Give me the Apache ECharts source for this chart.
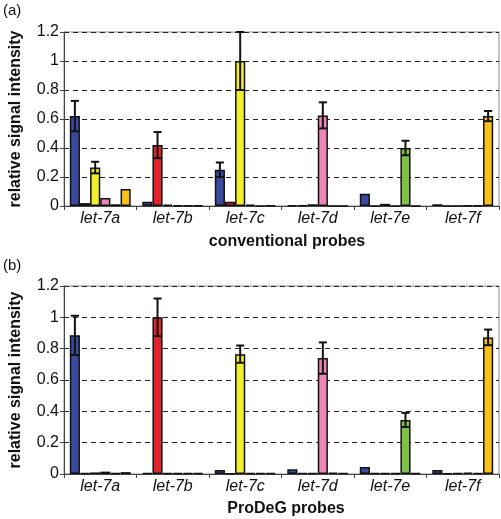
<!DOCTYPE html>
<html><head><meta charset="utf-8">
<script src="https://cdn.jsdelivr.net/npm/echarts@6/dist/echarts.min.js"></script>
<style>html,body{margin:0;padding:0;background:#fff}#c{width:501px;height:519px}</style>
</head><body><div id="c"></div>
<script>
const categories = ['let-7a','let-7b','let-7c','let-7d','let-7e','let-7f'];
const seriesNames = ['let-7a','let-7b','let-7c','let-7d','let-7e','let-7f'];
const colors = ['#3a4a9e','#e3242b','#f2ef2f','#ee86b8','#7dc243','#f7c21b'];
const yTicks = [0,0.2,0.4,0.6,0.8,1,1.2];

// (a) conventional probes: per series (target), values over categories (probes)
const convBlue   = [0.62, 0.03, 0.25, 0.005, 0.085, 0.012];
const convRed    = [0.02, 0.42, 0.03, 0.005, 0, 0];
const convYellow = [0.265, 0.01, 1.0, 0.012, 0.015, 0];
const convPink   = [0.055, 0.005, 0.01, 0.625, 0, 0.004];
const convGreen  = [0.012, 0.005, 0, 0, 0.40, 0.004];
const convOrange = [0.117, 0.005, 0.005, 0, 0, 0.62];
// error bars (a): [category, series, half-width]
const convErr = [[0,0,0.105],[0,2,0.04],[1,1,0.09],[2,0,0.05],[2,2,0.2],[3,3,0.09],[4,4,0.05],[5,5,0.035]];

// (b) ProDeG probes
const prodBlue   = [0.885, 0.005, 0.025, 0.03, 0.045, 0.025];
const prodRed    = [0.005, 1.0, 0.003, 0.005, 0.005, 0.003];
const prodYellow = [0.01, 0.005, 0.765, 0.005, 0.005, 0.005];
const prodPink   = [0.015, 0.005, 0.005, 0.74, 0.005, 0.008];
const prodGreen  = [0.005, 0.005, 0.005, 0.008, 0.345, 0.005];
const prodOrange = [0.012, 0.005, 0.005, 0.005, 0.005, 0.872];
const prodErr = [[0,0,0.125],[1,1,0.12],[2,2,0.055],[3,3,0.1],[4,4,0.045],[5,5,0.05]];

const convVals = [convBlue, convRed, convYellow, convPink, convGreen, convOrange];
const prodVals = [prodBlue, prodRed, prodYellow, prodPink, prodGreen, prodOrange];

const GAP = 0.16;
const FONT = 'Liberation Sans';

function errData(vals, errs){
  return errs.map(e => [e[0], e[1], vals[e[1]][e[0]], e[2]]);
}
function renderErr(params, api){
  const cat = api.value(0), s = api.value(1), v = api.value(2), e = api.value(3);
  const band = api.size([1,0])[0];
  const total = band*(1-GAP);
  const bw = total/6;
  const cx = api.coord([cat,0])[0] - total/2 + bw*(s+0.5);
  const top = api.coord([cat, v+e])[1];
  const bot = api.coord([cat, v-e])[1];
  const cap = bw*0.4;
  const st = {stroke:'#111', lineWidth:2};
  return {type:'group', children:[
    {type:'line', shape:{x1:cx,y1:top,x2:cx,y2:bot}, style:st},
    {type:'line', shape:{x1:cx-cap,y1:top,x2:cx+cap,y2:top}, style:st},
    {type:'line', shape:{x1:cx-cap,y1:bot,x2:cx+cap,y2:bot}, style:st}
  ]};
}

const grids = [
  {left:58, right:2, top:32, height:174, show:true, borderColor:'#8a8a8a', borderWidth:1},
  {left:58, right:2, top:286, height:188, show:true, borderColor:'#8a8a8a', borderWidth:1}
];
function xAx(i){
  return {type:'category', gridIndex:i, data:categories,
    axisLine:{lineStyle:{color:'#444', width:1}},
    axisTick:{show:true, length:4, lineStyle:{color:'#444'}},
    axisLabel:{fontFamily:FONT, fontSize:16, fontStyle:'italic', color:'#111', margin:5}};
}
function yAx(i){
  return {type:'value', gridIndex:i, min:0, max:1.2, interval:0.2,
    name:'relative signal intensity', nameLocation:'middle', nameGap:40,
    nameTextStyle:{fontFamily:FONT, fontSize:16, fontWeight:'bold', color:'#111'},
    axisLine:{show:true, lineStyle:{color:'#444'}},
    axisTick:{show:true, length:4, lineStyle:{color:'#444'}},
    axisLabel:{fontFamily:FONT, fontSize:16, color:'#111', margin:5,
      formatter: v => { const t = yTicks.find(x => Math.abs(x-v)<1e-9); return t===undefined? '' : String(t); }},
    splitLine:{show:true, lineStyle:{color:'#222', type:[5,4], width:1.2}}};
}
const series = [];
[convVals, prodVals].forEach((vals, gi) => {
  vals.forEach((arr, si) => {
    series.push({type:'bar', name:seriesNames[si], xAxisIndex:gi, yAxisIndex:gi,
      data:arr, barGap:'0%', barCategoryGap:(GAP*100)+'%',
      itemStyle:{color:colors[si], borderColor:'#111', borderWidth:1.5},
      emphasis:{disabled:true}, animation:false});
  });
  series.push({type:'custom', xAxisIndex:gi, yAxisIndex:gi, renderItem:renderErr,
    data: errData(vals, gi===0?convErr:prodErr), encode:{x:0, y:2}, z:10, animation:false, silent:true});
});

const chart = echarts.init(document.getElementById('c'), null, {renderer:'canvas'});
chart.setOption({
  animation:false,
  grid: grids,
  xAxis:[xAx(0), xAx(1)],
  yAxis:[yAx(0), yAx(1)],
  series: series,
  graphic:[
    {type:'text', left:3, top:3, style:{text:'(a)', fontFamily:FONT, fontSize:15, fill:'#111'}},
    {type:'text', left:3, top:258, style:{text:'(b)', fontFamily:FONT, fontSize:15, fill:'#111'}},
    {type:'text', x:287, y:242, style:{text:'conventional probes', fontFamily:FONT, fontSize:16, fontWeight:'bold', fill:'#111', align:'center', verticalAlign:'middle'}},
    {type:'text', x:286, y:509, style:{text:'ProDeG probes', fontFamily:FONT, fontSize:16, fontWeight:'bold', fill:'#111', align:'center', verticalAlign:'middle'}}
  ]
});
</script></body></html>
